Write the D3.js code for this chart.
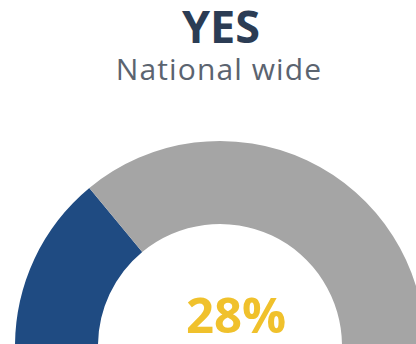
<!DOCTYPE html>
<html>
<head>
<meta charset="utf-8">
<script src="https://cdn.jsdelivr.net/npm/d3@7"></script>
<style>
  html, body { margin: 0; padding: 0; background: #ffffff; }
  svg { display: block; }
</style>
</head>
<body>
<svg id="chart" width="416" height="344"></svg>
<script>
// Gauge data: share answering "YES" versus the remainder
const categories = ["YES", "Other"];
const values = [28, 72];
const colors = ["#1f4b82", "#a5a5a5"];
const title = "YES";
const subtitle = "National wide";

const svg = d3.select("#chart");
const cx = 220, cy = 346;
const outerR = 205, innerR = 122;

// Half-circle pie running from the left (-90°) to the right (+90°)
const pie = d3.pie()
  .sort(null)
  .value(d => d)
  .startAngle(-Math.PI / 2)
  .endAngle(Math.PI / 2);

const arc = d3.arc().innerRadius(innerR).outerRadius(outerR);

const g = svg.append("g").attr("transform", `translate(${cx},${cy})`);

g.selectAll("path")
  .data(pie(values))
  .join("path")
  .attr("d", arc)
  .attr("fill", (d, i) => colors[i]);

// Headline and subtitle
svg.append("text")
  .attr("x", 221).attr("y", 43)
  .attr("text-anchor", "middle")
  .attr("font-family", "'Open Sans', sans-serif")
  .attr("font-weight", "bold")
  .attr("font-size", 45)
  .attr("fill", "#2b3c54")
  .text(title);

svg.append("text")
  .attr("x", 219).attr("y", 80)
  .attr("text-anchor", "middle")
  .attr("font-family", "'Open Sans', sans-serif")
  .attr("font-size", 30)
  .attr("letter-spacing", 1.1)
  .attr("fill", "#5b6470")
  .text(subtitle);

// Centre value, taken from the first slice
svg.append("text")
  .attr("x", 236).attr("y", 333)
  .attr("text-anchor", "middle")
  .attr("font-family", "'Open Sans', sans-serif")
  .attr("font-weight", "bold")
  .attr("font-size", 49)
  .attr("fill", "#f0c12c")
  .text(d3.format("d")(values[0]) + "%");
</script>
</body>
</html>
